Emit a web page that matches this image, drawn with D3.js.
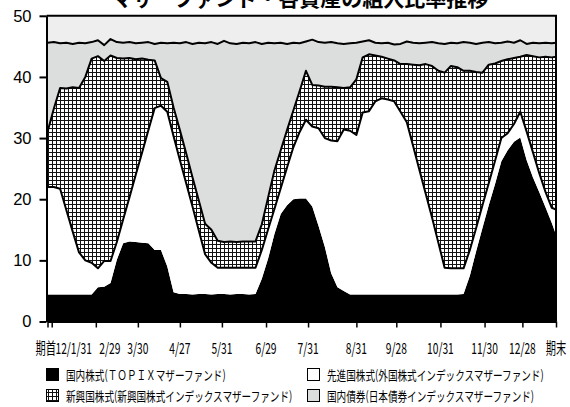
<!DOCTYPE html>
<html><head><meta charset="utf-8">
<script src="https://cdn.jsdelivr.net/npm/d3@7"></script>
<style>body{margin:0;background:#fff}svg{display:block}</style>
</head><body><svg id="c" width="570" height="407"></svg>
<script>
// trading-day index of each observation (期首 = 0)
const days = [0,3,6,9,12,15,18,21,24,27,30,33,36,39,42,45,48,51,54,57,60,63,66,69,72,75,78,81,84,87,90,93,96,99,102,105,108,111,114,117,120,123,126,129,132,135,138,141,144,147,150,153,156,159,162,165,168,171,174,177,180,183,186,189,192,195,198,201,204,207,210,213,216,219,222,225,228,231,234,237,240,242];
const domestic = [4.4,4.4,4.4,4.4,4.4,4.4,4.4,4.4,5.6,5.7,6.3,10.1,12.8,13.1,13.0,12.9,12.8,11.7,11.7,9.0,4.8,4.5,4.5,4.4,4.5,4.5,4.4,4.5,4.5,4.4,4.5,4.5,4.4,4.5,7.0,10.3,14.3,17.6,19.0,20.0,20.1,20.1,18.8,15.6,12.2,7.9,5.6,5.0,4.4,4.4,4.4,4.4,4.4,4.4,4.4,4.4,4.4,4.4,4.4,4.4,4.4,4.4,4.4,4.4,4.4,4.4,4.5,7.5,11.5,15.3,19.0,22.5,26.2,28.0,29.4,30.1,26.4,23.6,21.2,18.7,16.1,14.2];
const developed = [17.6,17.6,17.3,13.8,10.3,6.9,5.6,5.2,3.1,4.2,3.6,2.9,3.9,7.2,11.0,14.7,18.5,23.2,23.6,25.3,25.5,21.9,18.1,14.4,10.4,6.5,5.2,4.3,4.3,4.4,4.3,4.3,4.4,4.3,4.7,4.8,4.1,4.2,6.2,8.5,10.9,12.9,13.1,16.0,17.8,21.7,23.9,26.4,26.8,26.1,29.8,30.0,31.6,32.1,31.9,31.6,29.9,28.2,24.3,20.4,16.5,12.6,8.5,4.4,4.3,4.3,4.2,4.2,3.8,3.7,3.6,3.8,3.8,2.8,2.9,4.2,4.7,4.1,3.1,2.5,2.5,4.1];
const emerging = [9.0,12.8,16.5,19.9,23.6,26.9,30.0,33.4,34.7,32.7,33.6,30.1,26.3,22.8,18.9,15.4,11.5,7.8,4.5,4.9,4.7,4.9,4.9,4.8,4.9,5.0,5.4,4.4,4.2,4.3,4.2,4.3,4.3,4.3,4.2,5.2,6.3,6.2,6.1,6.0,6.7,8.0,6.8,7.0,8.4,8.8,8.8,6.8,7.1,9.1,9.0,9.3,7.5,6.8,6.7,6.7,7.8,9.5,13.3,17.1,21.2,24.8,28.1,31.9,33.1,32.9,32.3,29.3,25.5,21.7,19.4,15.9,12.6,12.1,10.8,9.0,12.5,15.7,18.9,22.1,24.6,25.0];
const bond = [14.6,10.9,7.3,7.5,7.1,7.4,5.5,2.7,2.6,2.6,2.7,2.6,2.6,2.6,2.6,2.6,2.9,2.7,5.8,6.3,10.6,14.2,18.2,21.8,25.8,29.5,30.7,32.2,32.9,32.4,32.4,32.5,32.4,32.6,29.5,25.3,20.8,17.6,14.1,11.1,7.8,4.8,7.4,7.1,7.2,7.3,7.2,7.2,7.2,6.0,2.6,2.3,2.1,2.2,2.6,2.6,3.3,3.7,3.6,3.6,3.5,3.9,4.5,4.7,3.8,3.9,4.7,4.6,4.6,4.9,3.7,3.3,3.0,2.9,2.5,2.7,1.8,2.2,2.3,2.3,2.3,2.3];
const seriesNames = ["国内株式(ＴＯＰＩＸマザーファンド)","先進国株式(外国株式インデックスマザーファンド)","新興国株式(新興国株式インデックスマザーファンド)","国内債券(日本債券インデックスマザーファンド)"];
const tickDays = [0,2,23,43,63,83,104,124,147,166,187,208,226,242];
const tickLabels = ["期首","12/1/31","2/29","3/30","4/27","5/31","6/29","7/31","8/31","9/28","10/31","11/30","12/28","期末"];
const yTicks = [0,10,20,30,40,50];
const titleText = "マザーファンド・各資産の組入比率推移";

const svg = d3.select("#c");
const L = 47.5, R = 556, T = 15.8, B = 321.5;
const x = d3.scaleLinear().domain([0, 242]).range([L, R]);
const y = d3.scaleLinear().domain([0, 50]).range([B, T]);

const defs = svg.append("defs");
const pat = defs.append("pattern").attr("id","grid").attr("patternUnits","userSpaceOnUse")
  .attr("width",4).attr("height",4);
pat.append("rect").attr("width",4).attr("height",4).attr("fill","#fff");
pat.append("path").attr("d","M0 0.5H4M0.5 0V4").attr("stroke","#111").attr("stroke-width",1);
defs.append("clipPath").attr("id","clip").append("rect")
  .attr("x",L-1).attr("y",T).attr("width",R-L+1).attr("height",B-T);

// title (cropped at top, as in the source image)
svg.append("text").attr("x",300).attr("y",5.5).attr("text-anchor","middle")
  .style("font-family","'Noto Sans CJK JP'").style("font-weight","bold").style("font-size","21px")
  .text(titleText);

const rows = days.map((d,i)=>({day:d, s0:domestic[i], s1:developed[i], s2:emerging[i], s3:bond[i]}));
const keys = ["s0","s1","s2","s3"];
const stacked = d3.stack().keys(keys)(rows);
const fills = ["#000","#fff","url(#grid)","#dcdddd"];

const plot = svg.append("g").attr("clip-path","url(#clip)");
plot.append("rect").attr("x",L-1).attr("y",T).attr("width",R-L+1).attr("height",B-T).attr("fill","#eeeeee");

const area = d3.area().x(d=>x(d.data.day)).y0(d=>y(d[0])).y1(d=>y(d[1]));
plot.selectAll("path.a").data(stacked).join("path").attr("class","a")
  .attr("d",area).attr("fill",(d,i)=>fills[i]);

const line = d3.line().x(d=>x(d.data.day)).y(d=>y(d[1]));
plot.selectAll("path.l").data(stacked.slice(1)).join("path").attr("class","l")
  .attr("d",line).attr("fill","none").attr("stroke","#000").attr("stroke-width",2)
  .attr("stroke-linejoin","round");

// frame
svg.append("line").attr("x1",L-1).attr("x2",R+1).attr("y1",T).attr("y2",T).attr("stroke","#000").attr("stroke-width",2);
svg.append("line").attr("x1",R).attr("x2",R).attr("y1",T).attr("y2",B).attr("stroke","#000").attr("stroke-width",2);

// y axis
const yAxis = svg.append("g").attr("transform",`translate(${L-1},0)`)
  .call(d3.axisLeft(y).tickValues(yTicks).tickSize(7).tickSizeOuter(0).tickPadding(8).tickFormat(d3.format("d")));
yAxis.select(".domain").attr("stroke-width",2);
yAxis.selectAll(".tick line").attr("stroke-width",2);
yAxis.selectAll("text").style("font-family","'Liberation Sans',Arial,sans-serif").style("font-size","16.5px").attr("fill","#000");

// x axis
const xAxis = svg.append("g").attr("transform",`translate(0,${B})`)
  .call(d3.axisBottom(x).tickValues(tickDays).tickSize(6).tickSizeOuter(0).tickFormat(""));
xAxis.select(".domain").attr("stroke-width",2);
xAxis.selectAll(".tick line").attr("stroke-width",1.5);

const labelShift = {0:-2, 1:22, 2:14};
svg.append("g").selectAll("g").data(tickDays).join("g")
  .attr("transform",(d,i)=>`translate(${x(d)+(labelShift[i]||0)},354) scale(0.66,1)`)
  .append("text").attr("text-anchor",(d,i)=> i===0?"end":"middle")
  .attr("x",(d,i)=> i===0?16:0)
  .style("font-family","'Noto Sans CJK JP'").style("font-size","15.5px")
  .text((d,i)=>tickLabels[i]);

// legend
const legPos = [[46,368],[307,368],[46,389],[307,389]];
const lg = svg.append("g");
seriesNames.forEach((name,i)=>{
  const [lx,ly] = legPos[i];
  lg.append("rect").attr("x",lx+0.5).attr("y",ly+0.5).attr("width",12).attr("height",12)
    .attr("fill",fills[i]).attr("stroke","#000").attr("stroke-width",1);
  lg.append("g").attr("transform",`translate(${lx+20},${ly+11.5}) scale(0.74,1)`)
    .append("text").style("font-family","'Noto Sans CJK JP'").style("font-size","13px").text(name);
});
</script></body></html>
